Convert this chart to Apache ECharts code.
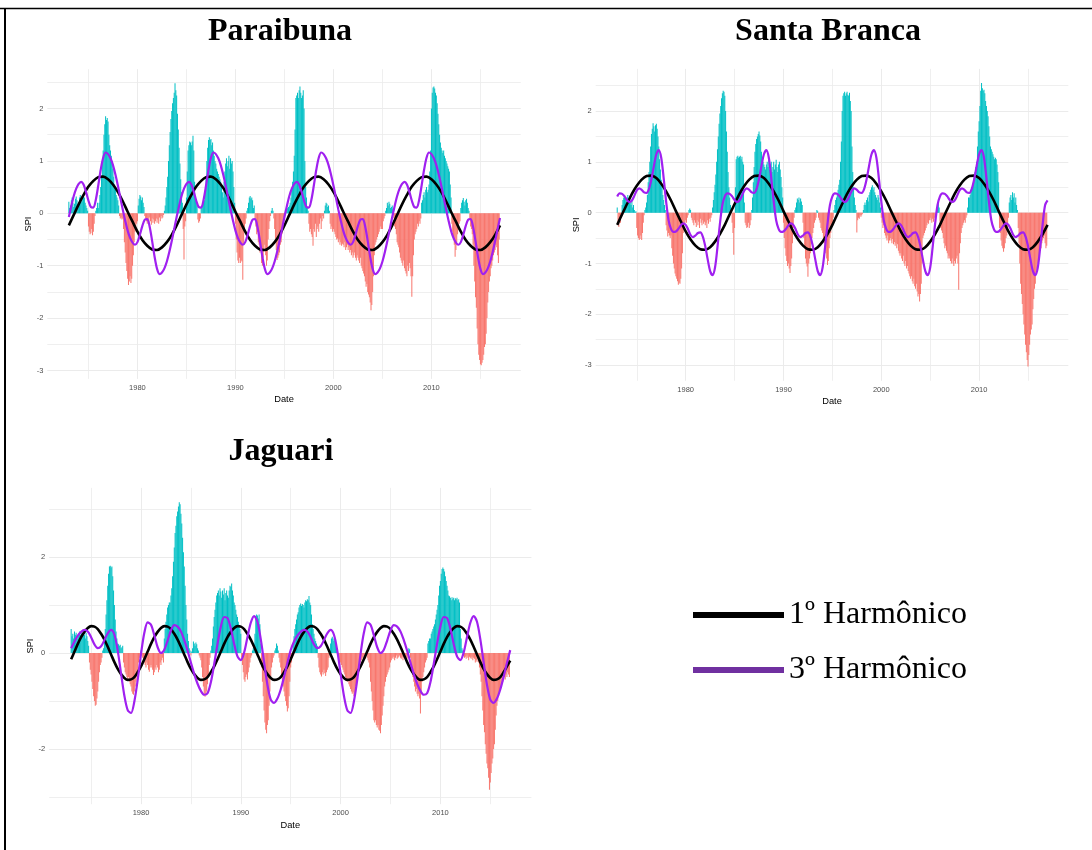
<!DOCTYPE html>
<html>
<head>
<meta charset="utf-8">
<script src="https://cdn.jsdelivr.net/npm/echarts@6/dist/echarts.min.js"></script>
<style>html,body{margin:0;padding:0;background:#fff}#c{width:1092px;height:850px}</style>
</head>
<body>
<div id="c"></div>
<script>
// ---------- DATA ----------
const startYear = 1973;            // first monthly SPI value = Jan 1973
const panelTitles = ['Paraibuna', 'Santa Branca', 'Jaguari'];
const legendNames = ['1º Harmônico', '3º Harmônico'];
const xTickLabels = ['1980', '1990', '2000', '2010'];
const yLabelP12 = ['-3', '-2', '-1', '0', '1', '2'];
const yLabelP3 = ['-2', '0', '2'];

// Monthly SPI, one row per year 1973..2016
const spiParaibuna = [
 0.22,0.10,0.15,0.25,0.30,0.20,0.12,0.18,0.28,0.32,0.25,0.15,
 0.20,0.30,0.35,0.28,0.22,0.30,0.38,0.30,0.20,0.15,0.10,0.05,
 -0.25,-0.35,-0.40,-0.38,-0.30,-0.42,-0.35,-0.20,-0.05,0.05,0.10,0.20,
 0.10,0.20,0.35,0.50,0.70,0.95,1.20,1.50,1.70,1.85,1.78,1.82,
 1.75,1.50,1.30,1.20,1.10,1.00,0.85,0.70,0.55,0.45,0.35,0.30,
 0.25,0.15,-0.05,-0.10,-0.08,-0.12,-0.10,-0.30,-0.55,-0.75,-0.95,-1.10,
 -1.25,-1.37,-1.30,-1.20,-1.33,-1.25,-1.00,-0.80,-0.55,-0.35,-0.25,-0.20,
 -0.15,0.15,0.28,0.35,0.32,0.25,0.30,0.20,0.12,-0.05,-0.10,-0.15,
 -0.20,-0.12,-0.18,-0.08,-0.15,-0.22,-0.10,-0.18,-0.12,-0.20,-0.15,-0.10,
 -0.18,-0.12,-0.20,-0.08,-0.15,-0.05,-0.10,-0.08,-0.03,0.05,0.15,0.30,
 0.50,0.70,1.00,1.30,1.55,1.80,1.95,2.10,2.20,2.30,2.48,2.35,
 2.25,1.90,1.60,1.25,0.95,0.65,0.40,0.20,-0.30,-0.88,-0.25,-0.15,
 0.30,0.80,1.20,1.30,1.37,1.35,1.30,1.37,1.48,1.20,0.60,0.30,
 0.20,0.15,-0.12,-0.18,-0.15,-0.10,0.10,0.15,0.20,0.30,0.25,0.40,
 0.70,1.00,1.25,1.40,1.45,1.40,1.42,1.30,1.35,1.20,1.10,1.00,
 0.95,0.85,0.80,0.75,0.70,0.65,0.60,0.50,0.40,0.30,0.60,0.80,
 0.95,1.05,0.90,1.00,1.10,0.85,1.05,0.95,1.00,0.80,0.50,0.20,
 -0.20,-0.50,-0.75,-0.90,-0.95,-0.85,-0.95,-0.90,-0.92,-1.27,-0.60,-0.30,
 -0.20,-0.10,0.05,0.10,0.20,0.30,0.33,0.28,0.30,0.25,0.10,0.15,
 -0.10,-0.25,-0.40,-0.35,-0.55,-0.60,-0.75,-0.65,-0.95,-1.00,-0.85,-0.70,
 -0.60,-0.80,-1.00,-0.90,-0.50,-0.30,-0.15,-0.05,0.05,0.10,0.05,-0.10,
 -0.30,-0.50,-0.70,-0.89,-0.85,-0.80,-0.75,-0.60,-0.55,-0.40,-0.30,-0.10,
 -0.05,0.02,0.05,0.08,0.10,0.12,0.15,0.20,0.30,0.45,0.60,0.80,
 1.10,1.60,2.20,2.25,2.30,2.20,2.35,2.42,2.30,2.20,2.25,2.35,
 2.00,1.00,0.50,0.30,0.10,0.05,-0.20,-0.35,-0.30,-0.40,-0.45,-0.62,
 -0.30,-0.35,-0.20,-0.45,-0.30,-0.25,-0.35,-0.20,-0.10,-0.30,-0.15,-0.05,
 -0.10,0.05,0.15,0.20,0.18,0.12,0.15,0.05,-0.20,-0.30,-0.25,-0.35,
 -0.30,-0.35,-0.40,-0.45,-0.50,-0.48,-0.55,-0.50,-0.60,-0.55,-0.62,-0.58,
 -0.60,-0.65,-0.55,-0.70,-0.65,-0.60,-0.70,-0.65,-0.75,-0.70,-0.80,-0.75,
 -0.85,-0.80,-0.75,-0.85,-0.90,-0.80,-0.85,-0.90,-0.95,-0.85,-1.00,-1.05,
 -1.10,-1.15,-1.20,-1.30,-1.40,-1.35,-1.50,-1.55,-1.60,-1.70,-1.85,-1.75,
 -1.50,-1.20,-0.80,-0.60,-0.55,-0.50,-0.45,-0.40,-0.35,-0.30,-0.25,-0.30,
 -0.30,-0.15,-0.10,-0.05,0.05,0.10,0.20,0.15,0.22,0.18,0.10,0.12,
 0.15,0.08,-0.10,-0.25,-0.30,-0.40,-0.55,-0.60,-0.65,-0.75,-0.85,-0.90,
 -0.95,-1.00,-0.90,-1.05,-1.10,-1.15,-1.20,-1.00,-1.10,-0.95,-1.05,-1.20,
 -1.59,-1.20,-0.80,-0.50,-0.40,-0.35,-0.30,-0.20,-0.25,-0.15,-0.20,-0.10,
 0.20,0.25,0.35,0.40,0.30,0.45,0.50,0.40,0.45,0.55,0.80,1.20,
 2.00,2.30,2.40,2.42,2.38,2.30,2.25,2.10,1.90,1.70,1.50,1.35,
 1.25,1.20,1.15,1.20,1.10,1.05,1.00,0.95,0.90,0.85,0.80,0.55,
 0.30,-0.20,-0.35,-0.50,-0.60,-0.83,-0.70,-0.55,-0.40,-0.30,-0.20,-0.15,
 0.10,0.20,0.25,0.29,0.22,0.15,0.25,0.28,0.20,0.10,0.05,-0.10,
 -0.25,-0.30,-0.40,-0.60,-1.00,-1.30,-1.60,-1.80,-2.20,-2.50,-2.70,-2.80,
 -2.88,-2.90,-2.85,-2.80,-2.70,-2.55,-2.50,-2.30,-2.00,-1.70,-1.50,-1.30,
 -1.20,-1.05,-1.00,-0.90,-0.80,-0.75,-0.70,-0.60,-0.65,-0.80,-0.95,-0.50
];

const spiSantaBranca = [
 0.10,-0.25,-0.28,-0.15,-0.20,-0.10,0.15,0.25,0.30,0.35,0.28,0.20,
 0.30,0.35,0.25,0.30,0.20,0.15,0.25,0.10,0.15,0.05,0.02,0.03,
 -0.30,-0.45,-0.50,-0.54,-0.52,-0.45,-0.54,-0.40,-0.20,-0.05,0.05,0.10,
 0.20,0.35,0.60,0.80,1.00,1.30,1.55,1.65,1.76,1.70,1.60,1.72,
 1.75,1.65,1.50,1.30,1.05,0.85,0.65,0.50,0.35,0.25,0.15,0.05,
 -0.25,-0.35,-0.47,-0.40,-0.45,-0.50,-0.45,-0.70,-0.85,-1.00,-1.10,-1.20,
 -1.25,-1.30,-1.35,-1.42,-1.38,-1.40,-1.30,-1.10,-0.80,-0.40,-0.25,-0.20,
 -0.15,-0.20,-0.10,-0.05,0.05,0.08,0.05,-0.10,-0.15,-0.20,-0.25,-0.15,
 -0.20,-0.28,-0.15,-0.25,-0.18,-0.30,-0.12,-0.20,-0.25,-0.15,-0.22,-0.18,
 -0.25,-0.20,-0.30,-0.15,-0.22,-0.12,-0.18,-0.10,-0.05,0.10,0.25,0.40,
 0.55,0.75,1.00,1.25,1.50,1.75,1.95,2.10,2.25,2.35,2.40,2.38,
 2.30,2.00,1.60,1.20,0.80,0.50,0.30,0.15,0.05,-0.20,-0.40,-0.83,
 -0.30,0.50,1.05,1.10,1.12,1.08,1.10,1.12,1.05,1.10,1.00,0.95,
 0.20,-0.20,-0.25,-0.30,-0.28,-0.20,-0.30,-0.25,-0.15,0.05,0.30,0.60,
 0.90,1.20,1.35,1.45,1.50,1.55,1.60,1.52,1.40,1.20,1.10,1.00,
 0.95,0.90,0.85,0.95,1.00,0.90,1.04,0.85,0.95,1.00,0.80,0.90,
 1.00,0.85,0.95,1.04,0.90,0.80,0.95,1.00,0.85,0.70,0.50,0.30,
 -0.20,-0.50,-0.70,-0.85,-0.95,-1.05,-1.00,-1.10,-1.19,-1.05,-0.90,-0.60,
 -0.30,-0.10,0.05,0.10,0.20,0.28,0.25,0.30,0.20,0.28,0.22,0.15,
 -0.20,-0.50,-0.70,-0.90,-1.00,-1.06,-1.26,-1.00,-0.90,-0.80,-0.60,-0.50,
 -0.40,-0.30,-0.20,-0.15,-0.10,0.05,0.03,-0.10,-0.15,-0.20,-0.30,-0.35,
 -0.40,-0.50,-0.60,-0.70,-0.80,-0.90,-1.03,-0.95,-0.70,-0.50,-0.40,-0.30,
 -0.20,-0.10,0.05,0.15,0.25,0.30,0.35,0.45,0.55,0.65,1.00,1.40,
 2.00,2.30,2.35,2.38,2.30,2.35,2.38,2.32,2.30,2.36,2.20,2.00,
 1.30,0.80,0.50,0.30,0.15,0.05,-0.39,-0.15,-0.10,-0.12,-0.05,-0.08,
 -0.05,-0.02,0.05,0.15,0.20,0.15,0.25,0.30,0.22,0.35,0.40,0.45,
 0.50,0.54,0.45,0.50,0.40,0.35,0.30,0.25,0.35,0.30,0.20,0.10,
 -0.10,-0.20,-0.30,-0.25,-0.40,-0.45,-0.50,-0.55,-0.45,-0.60,-0.55,-0.50,
 -0.55,-0.60,-0.52,-0.62,-0.58,-0.65,-0.60,-0.70,-0.62,-0.75,-0.80,-0.85,
 -0.80,-0.90,-0.95,-0.85,-1.00,-1.05,-0.95,-1.10,-1.05,-1.15,-1.20,-1.25,
 -1.30,-1.25,-1.35,-1.40,-1.30,-1.45,-1.50,-1.40,-1.55,-1.65,-1.60,-1.75,
 -1.60,-1.40,-1.00,-0.50,-0.45,-0.40,-0.35,-0.30,-0.25,-0.20,-0.22,-0.15,
 -0.10,-0.15,-0.20,-0.12,-0.18,-0.10,-0.15,-0.05,0.05,0.15,0.20,0.10,
 -0.20,-0.30,-0.35,-0.40,-0.50,-0.60,-0.70,-0.65,-0.75,-0.80,-0.90,-0.85,
 -0.90,-0.95,-1.00,-0.90,-1.00,-1.05,-0.95,-1.00,-0.90,-0.85,-1.00,-1.52,
 -0.80,-0.60,-0.40,-0.30,-0.25,-0.20,-0.15,-0.20,-0.10,-0.05,0.10,0.30,
 0.30,0.35,0.45,0.50,0.55,0.60,0.70,0.80,0.90,1.00,1.30,1.60,
 1.80,2.10,2.40,2.55,2.45,2.40,2.42,2.35,2.20,2.10,2.00,1.90,
 1.70,1.50,1.30,1.25,1.20,1.15,1.10,1.05,1.08,1.05,0.95,0.80,
 0.60,-0.30,-0.40,-0.55,-0.65,-0.70,-0.77,-0.70,-0.60,-0.50,-0.45,-0.30,
 -0.10,0.20,0.30,0.35,0.25,0.40,0.30,0.38,0.20,0.30,0.15,0.05,
 -0.30,-0.60,-1.00,-1.40,-1.60,-1.80,-2.00,-2.20,-2.40,-2.60,-2.75,-2.90,
 -3.03,-2.80,-2.60,-2.40,-2.30,-2.20,-1.90,-1.70,-1.50,-1.40,-1.20,-1.10,
 -1.00,-0.90,-0.80,-0.75,-0.70,-0.60,-0.55,-0.50,-0.45,-0.60,-0.70,-0.65
];

const spiJaguari = [
 0.50,0.35,0.40,0.30,0.45,0.38,0.42,0.35,0.30,0.40,0.45,0.38,
 0.42,0.35,0.40,0.45,0.38,0.30,0.42,0.35,0.25,0.15,-0.20,-0.35,
 -0.45,-0.60,-0.75,-0.90,-1.00,-1.10,-1.08,-0.95,-0.80,-0.60,-0.40,-0.25,
 -0.20,-0.10,0.05,0.10,0.25,0.50,0.80,1.10,1.40,1.65,1.80,1.82,
 1.78,1.80,1.60,1.30,1.00,0.70,0.45,0.30,0.20,0.18,0.15,0.17,
 0.10,0.12,0.15,-0.20,-0.30,-0.40,-0.45,-0.50,-0.55,-0.50,-0.60,-0.65,
 -0.70,-0.80,-0.85,-0.87,-0.80,-0.70,-0.60,-0.50,-0.35,-0.20,-0.10,-0.05,
 0.05,-0.05,-0.10,-0.15,-0.20,-0.25,-0.30,-0.20,-0.25,-0.35,-0.39,-0.30,
 -0.25,-0.30,-0.35,-0.46,-0.40,-0.30,-0.35,-0.25,-0.30,-0.40,-0.35,-0.20,
 -0.25,-0.15,-0.10,-0.20,0.30,0.50,0.65,0.80,0.95,1.00,1.05,1.05,
 1.20,1.35,1.60,1.90,2.20,2.50,2.65,2.85,2.95,3.05,3.14,3.10,
 2.90,2.70,2.40,2.10,1.80,1.40,1.00,0.70,0.40,0.25,0.10,0.05,
 -0.05,0.03,0.10,0.24,0.20,0.15,0.22,0.18,0.10,0.05,-0.05,-0.10,
 -0.15,-0.30,-0.50,-0.70,-0.85,-0.91,-0.88,-0.80,-0.65,-0.45,-0.25,-0.10,
 0.05,0.15,0.30,0.55,0.75,0.90,1.05,1.20,1.25,1.30,1.20,1.35,
 1.28,1.15,1.30,1.22,1.35,1.10,1.25,1.30,1.20,1.15,1.30,1.40,
 1.38,1.45,1.30,1.20,1.05,1.00,0.90,0.80,0.75,0.65,0.55,0.50,
 0.40,-0.10,-0.25,-0.40,-0.55,-0.60,-0.50,-0.45,-0.55,-0.40,-0.30,-0.20,
 -0.10,-0.05,0.05,0.10,0.20,0.40,0.75,0.80,0.78,0.72,0.80,0.60,
 0.20,-0.30,-0.60,-0.90,-1.20,-1.45,-1.60,-1.67,-1.50,-1.40,-1.10,-0.80,
 -0.50,-0.30,-0.20,-0.10,-0.05,0.05,0.10,0.20,0.15,0.05,-0.10,-0.20,
 -0.30,-0.50,-0.60,-0.70,-0.80,-0.90,-1.00,-1.10,-1.22,-1.15,-0.90,-0.60,
 -0.30,-0.20,-0.10,0.20,0.35,0.50,0.60,0.70,0.80,0.85,0.95,1.00,
 1.03,0.98,1.02,1.00,0.95,1.05,1.10,1.08,1.12,1.10,1.19,1.05,
 1.00,0.80,0.60,0.50,0.40,0.30,0.25,0.20,0.15,-0.10,-0.30,-0.40,
 -0.45,-0.49,-0.40,-0.45,-0.35,-0.42,-0.48,-0.40,-0.35,-0.30,-0.10,0.05,
 0.20,0.30,0.34,0.30,0.25,0.32,0.28,0.20,0.10,-0.05,-0.15,-0.25,
 -0.20,-0.25,-0.30,-0.35,-0.40,-0.45,-0.50,-0.55,-0.60,-0.58,-0.65,-0.70,
 -0.75,-0.80,-0.85,-0.82,-0.90,-0.85,-0.70,-0.60,-0.50,-0.45,-0.40,-0.30,
 -0.20,-0.15,-0.10,-0.12,-0.08,-0.10,-0.12,-0.05,-0.10,-0.15,-0.20,-0.30,
 -0.60,-0.80,-1.00,-1.20,-1.40,-1.45,-1.40,-1.50,-1.55,-1.50,-1.60,-1.62,
 -1.67,-1.50,-1.30,-1.10,-0.90,-0.70,-0.60,-0.50,-0.45,-0.40,-0.35,-0.30,
 -0.20,-0.15,-0.10,-0.12,-0.08,-0.15,-0.10,-0.05,-0.12,-0.10,-0.08,-0.05,
 -0.10,-0.12,-0.08,-0.15,-0.10,-0.05,-0.08,-0.10,-0.12,-0.05,0.10,0.08,
 -0.10,-0.30,-0.40,-0.50,-0.60,-0.70,-0.80,-0.75,-0.85,-0.90,-0.85,-0.95,
 -1.26,-0.80,-0.60,-0.50,-0.40,-0.30,-0.20,-0.15,-0.10,0.20,0.25,0.30,
 0.30,0.40,0.45,0.50,0.55,0.60,0.70,0.80,0.90,1.00,1.20,1.40,
 1.50,1.65,1.75,1.78,1.75,1.70,1.60,1.50,1.40,1.30,1.20,1.18,
 1.15,1.10,1.16,1.12,1.15,1.10,1.14,1.12,1.15,1.10,1.12,1.05,
 0.50,0.30,0.10,0.05,-0.05,-0.10,-0.08,-0.12,-0.05,-0.10,-0.15,-0.08,
 -0.10,-0.12,-0.08,-0.15,-0.10,-0.12,-0.20,-0.15,-0.18,-0.12,-0.20,-0.30,
 -0.45,-0.60,-0.90,-1.20,-1.50,-1.65,-1.90,-2.10,-2.30,-2.40,-2.60,-2.85,
 -2.70,-2.50,-2.30,-2.20,-2.00,-1.90,-1.60,-1.30,-1.10,-1.00,-0.90,-0.80,
 -0.75,-0.70,-0.65,-0.60,-0.55,-0.50,-0.55,-0.45,-0.50,-0.40,-0.45,-0.50
];

// Harmonic curves; sample spacing (years) given per curve
const harm1Step12 = 0.5;
const harm1Paraibuna = [
 -0.23,-0.03,0.17,0.35,0.51,0.62,0.69,0.70,0.65,0.55,0.41,0.23,0.03,-0.16,-0.35,-0.51,-0.62,-0.69,-0.70,-0.65,-0.55,-0.41,
 -0.23,-0.03,0.17,0.35,0.51,0.62,0.69,0.70,0.65,0.55,0.41,0.23,0.03,-0.16,-0.35,-0.51,-0.62,-0.69,-0.70,-0.65,-0.55,-0.41,
 -0.23,-0.03,0.17,0.35,0.51,0.62,0.69,0.70,0.65,0.55,0.41,0.23,0.03,-0.16,-0.35,-0.51,-0.62,-0.69,-0.70,-0.65,-0.55,-0.41,
 -0.23,-0.03,0.17,0.35,0.51,0.62,0.69,0.70,0.65,0.55,0.41,0.23,0.03,-0.16,-0.35,-0.51,-0.62,-0.69,-0.70,-0.65,-0.55,-0.41,
 -0.23
];
const harm1SantaBranca = [
 -0.24,-0.03,0.17,0.37,0.53,0.65,0.72,0.73,0.68,0.57,0.42,0.24,0.03,-0.17,-0.37,-0.53,-0.65,-0.72,-0.73,-0.68,-0.57,-0.42,
 -0.24,-0.03,0.17,0.37,0.53,0.65,0.72,0.73,0.68,0.57,0.42,0.24,0.03,-0.17,-0.37,-0.53,-0.65,-0.72,-0.73,-0.68,-0.57,-0.42,
 -0.24,-0.03,0.17,0.37,0.53,0.65,0.72,0.73,0.68,0.57,0.42,0.24,0.03,-0.17,-0.37,-0.53,-0.65,-0.72,-0.73,-0.68,-0.57,-0.42,
 -0.24,-0.03,0.17,0.37,0.53,0.65,0.72,0.73,0.68,0.57,0.42,0.24,0.03,-0.17,-0.37,-0.53,-0.65,-0.72,-0.73,-0.68,-0.57,-0.42,
 -0.24
];
const harm3Step12 = 0.25;
const harm3Paraibuna = [
 -0.07,0.14,0.33,0.47,0.56,0.60,0.55,0.41,0.24,0.12,0.11,0.26,0.53,0.83,1.06,1.16,1.13,1.05,0.92,0.74,0.53,0.30,
 0.07,-0.14,-0.33,-0.47,-0.56,-0.60,-0.55,-0.41,-0.24,-0.12,-0.11,-0.26,-0.53,-0.83,-1.06,-1.16,-1.13,-1.05,-0.92,-0.74,-0.53,-0.30,
 -0.07,0.14,0.33,0.47,0.56,0.60,0.55,0.41,0.24,0.12,0.11,0.26,0.53,0.83,1.06,1.16,1.13,1.05,0.92,0.74,0.53,0.30,
 0.07,-0.14,-0.33,-0.47,-0.56,-0.60,-0.55,-0.41,-0.24,-0.12,-0.11,-0.26,-0.53,-0.83,-1.06,-1.16,-1.13,-1.05,-0.92,-0.74,-0.53,-0.30,
 -0.07,0.14,0.33,0.47,0.56,0.60,0.55,0.41,0.24,0.12,0.11,0.26,0.53,0.83,1.06,1.16,1.13,1.05,0.92,0.74,0.53,0.30,
 0.07,-0.14,-0.33,-0.47,-0.56,-0.60,-0.55,-0.41,-0.24,-0.12,-0.11,-0.26,-0.53,-0.83,-1.06,-1.16,-1.13,-1.05,-0.92,-0.74,-0.53,-0.30,
 -0.07,0.14,0.33,0.47,0.56,0.60,0.55,0.41,0.24,0.12,0.11,0.26,0.53,0.83,1.06,1.16,1.13,1.05,0.92,0.74,0.53,0.30,
 0.07,-0.14,-0.33,-0.47,-0.56,-0.60,-0.55,-0.41,-0.24,-0.12,-0.11,-0.26,-0.53,-0.83,-1.06,-1.16,-1.13,-1.05,-0.92,-0.74,-0.53,-0.30,
 -0.09
];
const harm3SantaBranca = [
 0.32,0.38,0.37,0.32,0.25,0.21,0.24,0.33,0.44,0.48,0.45,0.40,0.39,0.47,0.66,0.92,1.15,1.23,1.08,0.68,0.22,-0.15,
 -0.32,-0.38,-0.37,-0.32,-0.25,-0.21,-0.24,-0.33,-0.44,-0.48,-0.45,-0.40,-0.39,-0.47,-0.66,-0.92,-1.15,-1.23,-1.08,-0.68,-0.22,0.15,
 0.32,0.38,0.37,0.32,0.25,0.21,0.24,0.33,0.44,0.48,0.45,0.40,0.39,0.47,0.66,0.92,1.15,1.23,1.08,0.68,0.22,-0.15,
 -0.32,-0.38,-0.37,-0.32,-0.25,-0.21,-0.24,-0.33,-0.44,-0.48,-0.45,-0.40,-0.39,-0.47,-0.66,-0.92,-1.15,-1.23,-1.08,-0.68,-0.22,0.15,
 0.32,0.38,0.37,0.32,0.25,0.21,0.24,0.33,0.44,0.48,0.45,0.40,0.39,0.47,0.66,0.92,1.15,1.23,1.08,0.68,0.22,-0.15,
 -0.32,-0.38,-0.37,-0.32,-0.25,-0.21,-0.24,-0.33,-0.44,-0.48,-0.45,-0.40,-0.39,-0.47,-0.66,-0.92,-1.15,-1.23,-1.08,-0.68,-0.22,0.15,
 0.32,0.38,0.37,0.32,0.25,0.21,0.24,0.33,0.44,0.48,0.45,0.40,0.39,0.47,0.66,0.92,1.15,1.23,1.08,0.68,0.22,-0.15,
 -0.32,-0.38,-0.37,-0.32,-0.25,-0.21,-0.24,-0.33,-0.44,-0.48,-0.45,-0.40,-0.39,-0.47,-0.66,-0.92,-1.15,-1.23,-1.08,-0.68,-0.22,0.15,
 0.24
];
const harmStepJaguari = 1 / 3;
const harm1Jaguari = [
 -0.13,0.03,0.19,0.33,0.44,0.52,0.56,0.55,0.50,0.40,0.28,0.13,-0.03,-0.19,-0.33,-0.44,-0.52,-0.56,-0.55,-0.50,-0.40,-0.28,
 -0.13,0.03,0.19,0.33,0.44,0.52,0.56,0.55,0.50,0.40,0.28,0.13,-0.03,-0.19,-0.33,-0.44,-0.52,-0.56,-0.55,-0.50,-0.40,-0.28,
 -0.13,0.03,0.19,0.33,0.44,0.52,0.56,0.55,0.50,0.40,0.28,0.13,-0.03,-0.19,-0.33,-0.44,-0.52,-0.56,-0.55,-0.50,-0.40,-0.28,
 -0.13,0.03,0.19,0.33,0.44,0.52,0.56,0.55,0.50,0.40,0.28,0.13,-0.03,-0.19,-0.33,-0.44,-0.52,-0.56,-0.55,-0.50,-0.40,-0.28,
 -0.13,0.03,0.19,0.33,0.44,0.52,0.56,0.55,0.50,0.40,0.28,0.13,-0.03,-0.19,-0.33,-0.44,-0.52,-0.56,-0.55,-0.50,-0.40,-0.28,
 -0.13,0.03,0.19,0.33,0.44,0.52,0.56,0.55,0.50,0.40,0.28,0.13,-0.03,-0.19,-0.33,-0.44,-0.52,-0.56,-0.55,-0.50,-0.40,-0.28,
 -0.16
];
const harm3Jaguari = [
 0.10,0.24,0.36,0.44,0.48,0.45,0.33,0.18,0.10,0.14,0.27,0.41,0.48,0.38,0.05,-0.43,-0.89,-1.19,-1.25,-1.01,-0.56,-0.02,0.42,0.64,
 0.59,0.37,0.12,0.00,0.07,0.26,0.47,0.58,0.55,0.45,0.27,0.05,-0.20,-0.44,-0.64,-0.79,-0.87,-0.84,-0.61,-0.23,0.19,0.55,0.75,0.73,
 0.51,0.19,-0.07,-0.15,0.01,0.33,0.63,0.77,0.65,0.29,-0.19,-0.66,-0.97,-1.04,-0.95,-0.76,-0.50,-0.21,
 0.06,0.24,0.36,0.44,0.48,0.45,0.33,0.18,0.10,0.14,0.27,0.41,0.48,0.38,0.05,-0.43,-0.89,-1.19,-1.25,-1.01,-0.56,-0.02,0.42,0.64,
 0.59,0.37,0.12,0.00,0.07,0.26,0.47,0.58,0.55,0.45,0.27,0.05,-0.20,-0.44,-0.64,-0.79,-0.87,-0.84,-0.61,-0.23,0.19,0.55,0.75,0.73,
 0.51,0.19,-0.07,-0.15,0.01,0.33,0.63,0.77,0.65,0.29,-0.19,-0.66,-0.97,-1.04,-0.95,-0.76,-0.50,-0.21,
 0.06
];

// ---------- STYLE / LAYOUT ----------
const POS = '#00BFC4', NEG = '#F8766D', H1C = '#000000', H3C = '#A020F0', LEG3 = '#7030A0';
const GRIDC = '#EBEBEB';
const panels = [
  {title: panelTitles[0], spi: spiParaibuna, h1: harm1Paraibuna, h1s: harm1Step12, h3: harm3Paraibuna, h3s: harm3Step12,
   grid: {left: 47.3, top: 69.2, width: 473.5, height: 309.7}, y: [-3.16, 2.75], split: 5, labels: yLabelP12, tx: 280, ty: 32},
  {title: panelTitles[1], spi: spiSantaBranca, h1: harm1SantaBranca, h1s: harm1Step12, h3: harm3SantaBranca, h3s: harm3Step12,
   grid: {left: 595.7, top: 68.9, width: 472.6, height: 311.9}, y: [-3.31, 2.83], split: 5, labels: yLabelP12, tx: 828, ty: 32},
  {title: panelTitles[2], spi: spiJaguari, h1: harm1Jaguari, h1s: harmStepJaguari, h3: harm3Jaguari, h3s: harmStepJaguari,
   grid: {left: 49.2, top: 487.9, width: 482.2, height: 316.3}, y: [-3.15, 3.44], split: 3, labels: yLabelP3, tx: 281, ty: 451.5}
];
const X_MIN = 1970.8, X_MAX = 2019.12;
const labelFont = 'Liberation Sans';

const grids = [], xAxes = [], yAxes = [], series = [], graphics = [];
panels.forEach((p, i) => {
  grids.push(Object.assign({containLabel: false}, p.grid));
  xAxes.push({
    type: 'value', gridIndex: i, min: X_MIN, max: X_MAX, splitNumber: 5,
    name: 'Date', nameLocation: 'middle', nameGap: 16.5,
    nameTextStyle: {fontFamily: labelFont, fontSize: 9.3, color: '#000'},
    axisLine: {show: false}, axisTick: {show: false},
    axisLabel: {fontFamily: labelFont, fontSize: 7.5, color: '#4D4D4D', margin: 5,
      showMinLabel: false, showMaxLabel: false,
      formatter: v => xTickLabels.indexOf(String(v)) >= 0 ? String(v) : ''},
    splitLine: {show: true, showMinLine: false, showMaxLine: false, lineStyle: {color: GRIDC, width: 1}},
    minorTick: {show: false, splitNumber: 2},
    minorSplitLine: {show: true, lineStyle: {color: GRIDC, width: 0.8}}
  });
  yAxes.push({
    type: 'value', gridIndex: i, min: p.y[0], max: p.y[1], splitNumber: p.split,
    name: 'SPI', nameLocation: 'middle', nameGap: 10.5,
    nameTextStyle: {fontFamily: labelFont, fontSize: 9.3, color: '#000'},
    axisLine: {show: false}, axisTick: {show: false},
    axisLabel: {fontFamily: labelFont, fontSize: 7.5, color: '#4D4D4D', margin: 4,
      showMinLabel: false, showMaxLabel: false,
      formatter: v => p.labels.indexOf(String(v)) >= 0 ? String(v) : ''},
    splitLine: {show: true, showMinLine: false, showMaxLine: false, lineStyle: {color: GRIDC, width: 1}},
    minorTick: {show: false, splitNumber: 2},
    minorSplitLine: {show: true, lineStyle: {color: GRIDC, width: 0.8}}
  });
  series.push({
    type: 'bar', xAxisIndex: i, yAxisIndex: i, barWidth: '80%',
    data: p.spi.map((v, k) => [startYear + k / 12, v]),
    itemStyle: {color: params => params.value[1] >= 0 ? POS : NEG},
    silent: true
  });
  series.push({
    type: 'line', name: legendNames[0], xAxisIndex: i, yAxisIndex: i, showSymbol: false, smooth: 0.3,
    data: p.h1.map((v, k) => [startYear + k * p.h1s, v]),
    lineStyle: {color: H1C, width: 2.6}, itemStyle: {color: H1C}, z: 3, silent: true
  });
  series.push({
    type: 'line', name: legendNames[1], xAxisIndex: i, yAxisIndex: i, showSymbol: false, smooth: 0.3,
    data: p.h3.map((v, k) => [startYear + k * p.h3s, v]),
    lineStyle: {color: H3C, width: 2.2}, itemStyle: {color: H3C}, z: 4, silent: true
  });
  graphics.push({type: 'text', x: p.tx, y: p.ty, style: {text: p.title, align: 'center', verticalAlign: 'middle',
    font: 'bold 32px "Liberation Serif"', fill: '#000'}});
});

// frame lines
graphics.push({type: 'line', shape: {x1: 0, y1: 8.5, x2: 1092, y2: 8.5}, style: {stroke: '#000', lineWidth: 1.5}});
graphics.push({type: 'line', shape: {x1: 5, y1: 8, x2: 5, y2: 850}, style: {stroke: '#000', lineWidth: 2}});

const chart = echarts.init(document.getElementById('c'), null, {renderer: 'canvas'});
chart.setOption({
  animation: false,
  backgroundColor: '#fff',
  grid: grids, xAxis: xAxes, yAxis: yAxes, series: series,
  legend: {
    left: 693, top: 599, orient: 'vertical', icon: 'rect', itemWidth: 91, itemHeight: 6, itemGap: 23,
    selectedMode: false, padding: 0,
    textStyle: {fontFamily: 'Liberation Serif', fontSize: 32, color: '#000'},
    data: [{name: legendNames[0], itemStyle: {color: H1C}}, {name: legendNames[1], itemStyle: {color: LEG3}}]
  },
  graphic: graphics
});
</script>
</body>
</html>
